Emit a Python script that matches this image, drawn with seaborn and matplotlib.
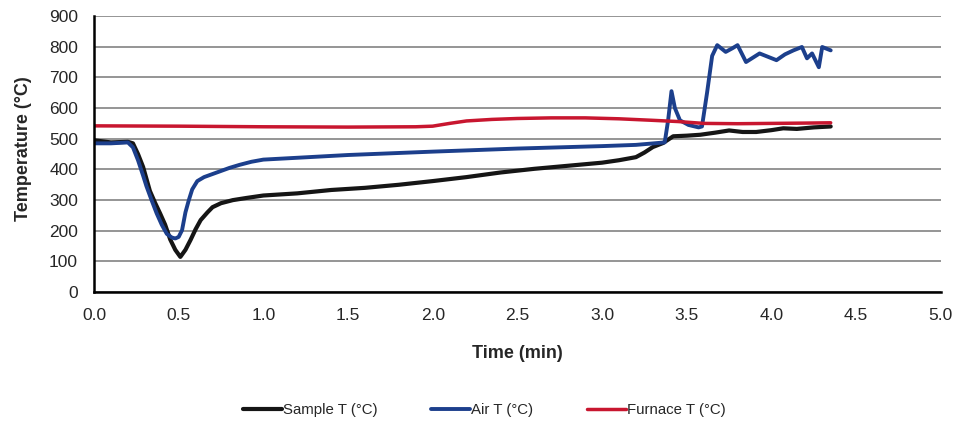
import matplotlib
matplotlib.use("Agg")
import matplotlib.pyplot as plt
import seaborn as sns
from matplotlib.ticker import MultipleLocator

# Sample T (black)
sample_t = [0, 0.1, 0.2, 0.23, 0.26, 0.29, 0.33, 0.36, 0.39, 0.42,
            0.45, 0.48, 0.51, 0.54, 0.57, 0.6, 0.63, 0.67, 0.7, 0.75,
            0.82, 0.9, 1.0, 1.2, 1.4, 1.6, 1.8, 2.0, 2.2, 2.4,
            2.6, 2.8, 3.0, 3.1, 3.2, 3.25, 3.3, 3.36, 3.42, 3.5,
            3.58, 3.67, 3.75, 3.83, 3.91, 4.0, 4.07, 4.15, 4.25, 4.35]
sample_temp = [495, 488, 490, 485, 450, 408, 330, 292, 257, 220,
               172, 138, 115, 138, 170, 205, 235, 260, 277, 290,
               300, 307, 315, 322, 333, 340, 350, 362, 375, 390,
               402, 412, 422, 430, 440, 455, 473, 486, 508, 510,
               513, 520, 527, 522, 522, 528, 534, 532, 537, 540]

# Air T (blue)
air_t = [0, 0.1, 0.2, 0.23, 0.26, 0.29, 0.31, 0.34, 0.37, 0.4,
         0.43, 0.46, 0.48, 0.5, 0.52, 0.54, 0.56, 0.58, 0.61, 0.65,
         0.7, 0.75, 0.8, 0.86, 0.93, 1.0, 1.2, 1.5, 2.0, 2.5,
         3.0, 3.2, 3.37, 3.39, 3.41, 3.43, 3.46, 3.51, 3.57, 3.59,
         3.62, 3.65, 3.68, 3.73, 3.77, 3.8, 3.85, 3.93, 4.03, 4.08,
         4.13, 4.18, 4.21, 4.24, 4.28, 4.3, 4.35]
air_temp = [485, 485, 488, 472, 430, 380, 345, 300, 257, 220,
            190, 178, 175, 180, 202, 260, 300, 335, 362, 375,
            385, 395, 405, 415, 425, 432, 438, 447, 458, 468,
            476, 480, 488, 560, 655, 600, 560, 545, 537, 540,
            650, 770, 805, 783, 795, 805, 750, 778, 756, 775,
            788, 799, 762, 778, 733, 799, 788]

# Furnace T (red)
furnace_t = [0, 0.5, 1.0, 1.5, 1.9, 2.0, 2.1, 2.2, 2.35, 2.5,
             2.7, 2.9, 3.1, 3.3, 3.45, 3.6, 3.8, 4.0, 4.2, 4.35]
furnace_temp = [542, 541, 539, 538, 539, 541, 550, 558, 563, 566,
                568, 568, 565, 560, 556, 550, 549, 550, 551, 552]

sns.set_style("white")
plt.rcParams['font.family'] = ['Liberation Sans', 'DejaVu Sans']

fig = plt.figure(figsize=(9.59, 4.21), dpi=100)
ax = fig.add_axes([0.098, 0.306, 0.883, 0.656])

sns.lineplot(x=sample_t, y=sample_temp, ax=ax, color='#151515', lw=3.0, label='Sample T (°C)')
sns.lineplot(x=air_t, y=air_temp, ax=ax, color='#1c3f8c', lw=2.8, label='Air T (°C)')
sns.lineplot(x=furnace_t, y=furnace_temp, ax=ax, color='#c8162f', lw=2.5, label='Furnace T (°C)')

ax.set_xlim(0, 5.0)
ax.set_ylim(0, 900)
ax.xaxis.set_major_locator(MultipleLocator(0.5))
ax.xaxis.set_minor_locator(MultipleLocator(0.25))
ax.yaxis.set_major_locator(MultipleLocator(100))
ax.yaxis.set_minor_locator(MultipleLocator(20))
ax.xaxis.set_major_formatter(plt.FuncFormatter(lambda v, p: f'{v:.1f}'))

ax.grid(axis='y', color='#8c8c8c', lw=1.3)
ax.grid(axis='x', visible=False)
ax.set_axisbelow(True)
for s in ['top', 'right']:
    ax.spines[s].set_visible(False)
for s in ['left', 'bottom']:
    ax.spines[s].set_color('black')
    ax.spines[s].set_linewidth(1.8)

ax.tick_params(which='major', direction='inout', length=9, width=1.6, labelsize=12.5, color='black')
ax.tick_params(which='minor', direction='inout', length=5, width=1.2, color='black')
ax.tick_params(axis='x', which='major', pad=7)
ax.tick_params(axis='y', which='major', pad=7)

ax.set_xlabel('Time (min)', fontsize=13, fontweight='bold', labelpad=16)
ax.set_ylabel('Temperature (°C)', fontsize=13, fontweight='bold')
ax.yaxis.set_label_coords(-0.073, 0.52)

ax.get_legend().remove()
handles, labels = ax.get_legend_handles_labels()
fig.legend(handles, labels, loc='center', bbox_to_anchor=(0.505, 0.026), ncol=3,
           frameon=False, fontsize=10.8, handlelength=2.6, handletextpad=0.05,
           columnspacing=3.6)

fig.savefig('out.png', dpi=100)
